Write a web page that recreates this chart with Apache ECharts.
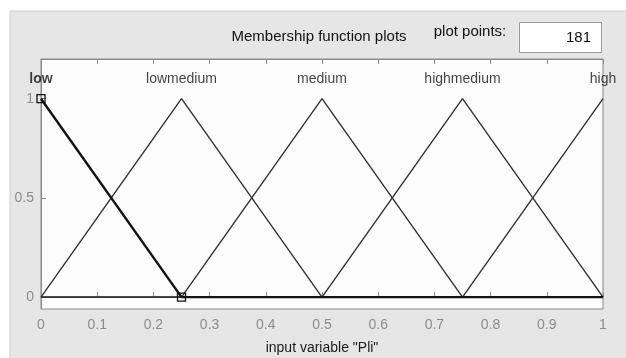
<!DOCTYPE html>
<html>
<head>
<meta charset="utf-8">
<script src="https://cdn.jsdelivr.net/npm/echarts@6/dist/echarts.min.js"></script>
<style>
html,body{margin:0;padding:0;background:#fff;}
#c{width:626px;height:358px;}
</style>
</head>
<body>
<div id="c"></div>
<script>
var mfNames = ['low', 'lowmedium', 'medium', 'highmedium', 'high'];
var mfPeaks = [0, 0.25, 0.5, 0.75, 1];
var lowPts = [[0, 1], [0.25, 0], [1, 0]];
var lowMediumPts = [[0, 0], [0.25, 1], [0.5, 0], [1, 0]];
var mediumPts = [[0, 0], [0.25, 0], [0.5, 1], [0.75, 0], [1, 0]];
var highMediumPts = [[0, 0], [0.5, 0], [0.75, 1], [1, 0]];
var highPts = [[0, 0], [0.75, 0], [1, 1]];
var xTicks = [0, 0.1, 0.2, 0.3, 0.4, 0.5, 0.6, 0.7, 0.8, 0.9, 1];
var yTicks = [0, 0.5, 1];
var plotPoints = '181';
var FONT = '"Liberation Sans", Arial, sans-serif';

var chart = echarts.init(document.getElementById('c'));

function thinLine(data) {
  return {
    type: 'line', data: data, symbol: 'none', silent: true, z: 2,
    lineStyle: { color: '#333333', width: 1.4 }
  };
}

var option = {
  animation: false,
  backgroundColor: '#ffffff',
  graphic: [
    { type: 'rect', z: -10, shape: { x: 10, y: 11, width: 620, height: 350 },
      style: { fill: '#e6e6e6', stroke: '#cfcfcf', lineWidth: 1 } },
    { type: 'text', z: 10, style: { x: 319, y: 37, text: 'Membership function plots', font: '15px ' + FONT, fill: '#111', align: 'center', verticalAlign: 'middle' } },
    { type: 'text', z: 10, style: { x: 470, y: 32, text: 'plot points:', font: '15px ' + FONT, fill: '#111', align: 'center', verticalAlign: 'middle' } },
    { type: 'rect', z: 10, shape: { x: 519.5, y: 22.5, width: 82, height: 30 },
      style: { fill: '#ffffff', stroke: '#9a9a9a', lineWidth: 1 } },
    { type: 'text', z: 11, style: { x: 591, y: 38, text: plotPoints, font: '15px ' + FONT, fill: '#111', align: 'right', verticalAlign: 'middle' } }
  ],
  grid: { left: 41, right: 23, top: 59, bottom: 49, outerBoundsMode: 'none', containLabel: false,
    show: true, backgroundColor: '#fcfcfc', borderColor: '#8a8a8a', borderWidth: 1 },
  xAxis: [{
    type: 'value', min: 0, max: 1, interval: 0.1,
    name: 'input variable "Pli"', nameLocation: 'middle', nameGap: 32,
    nameTextStyle: { color: '#1a1a1a', fontSize: 14, fontFamily: FONT },
    axisLine: { show: true, lineStyle: { color: '#8a8a8a' } },
    axisTick: { show: true, inside: true, length: 5, lineStyle: { color: '#8a8a8a' } },
    axisLabel: { color: '#8c8c8c', fontSize: 14, fontFamily: FONT, margin: 9,
      formatter: function (v) { return String(Math.round(v * 10) / 10); } },
    splitLine: { show: false }
  }, {
    type: 'value', position: 'top', min: 0, max: 1, interval: 0.1,
    axisLine: { show: true, lineStyle: { color: '#8a8a8a' } },
    axisTick: { show: true, inside: true, length: 5, lineStyle: { color: '#8a8a8a' } },
    axisLabel: { show: false }, splitLine: { show: false }
  }],
  yAxis: [{
    type: 'value', min: -0.06, max: 1.2,
    axisLine: { show: true, lineStyle: { color: '#8a8a8a' } },
    axisTick: { show: true, inside: true, length: 5, lineStyle: { color: '#8a8a8a' }, customValues: yTicks },
    axisLabel: { color: '#8c8c8c', fontSize: 14, fontFamily: FONT, margin: 7, customValues: yTicks,
      formatter: function (v) { return String(v); } },
    splitLine: { show: false }
  }],
  series: [
    thinLine(lowMediumPts),
    thinLine(mediumPts),
    thinLine(highMediumPts),
    thinLine(highPts),
    {
      type: 'line', data: lowPts.slice(0, 2), silent: true, z: 4,
      symbol: 'rect', symbolSize: 8, showAllSymbol: true,
      itemStyle: { color: 'rgba(255,255,255,0)', borderColor: '#111', borderWidth: 1.3 },
      lineStyle: { color: '#111', width: 2.4 }
    },
    {
      type: 'line', data: lowPts.slice(1), silent: true, z: 3, symbol: 'none',
      lineStyle: { color: '#111', width: 2.4 }
    },
    {
      type: 'scatter', silent: true, symbolSize: 0, z: 5,
      data: mfNames.map(function (n, i) { return { value: [mfPeaks[i], 1.1], name: n }; }),
      label: {
        show: true, position: 'inside', fontFamily: FONT, fontSize: 14, color: '#111',
        formatter: function (p) { return p.name; }
      }
    }
  ]
};
option.series[6].data[0].label = { fontWeight: 'bold' };
chart.setOption(option);
</script>
</body>
</html>
